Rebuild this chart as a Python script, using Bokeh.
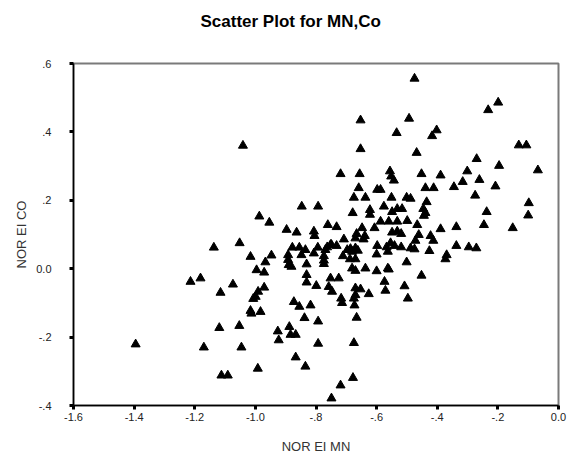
from bokeh.plotting import figure
from bokeh.models import FixedTicker, ColumnDataSource, Title
from bokeh.embed import file_html
from bokeh.resources import INLINE

# Normalised EI values for manganese (x) and cobalt (y), one pair per sample
nor_ei_mn = [
    -1.395, -1.214, -1.181, -1.137, -1.115, -1.119, -1.170, -1.112, -1.091, -1.074,
    -1.052, -1.053, -1.046, -1.016, -0.996, -0.971, -0.967, -0.947, -0.971, -0.991,
    -0.999, -1.007, -1.016, -1.013, -0.983, -0.992, -0.954, -0.987, -1.041, -0.847,
    -0.793, -0.897, -0.864, -0.807, -0.805, -0.878, -0.855, -0.835, -0.807, -0.794,
    -0.892, -0.892, -0.890, -0.881, -0.848, -0.831, -0.831, -0.831, -0.799, -0.873,
    -0.855, -0.818, -0.838, -0.793, -0.926, -0.923, -0.888, -0.884, -0.867, -0.793,
    -0.867, -0.835, -0.749, -0.719, -0.678, -0.675, -0.666, -0.673, -0.717, -0.714,
    -0.675, -0.670, -0.670, -0.653, -0.626, -0.571, -0.574, -0.497, -0.508, -0.452,
    -0.501, -0.373, -0.369, -0.271, -0.296, -0.337, -0.426, -0.246, -0.151, -0.337,
    -0.389, -0.466, -0.461, -0.472, -0.422, -0.413, -0.488, -0.475, -0.519, -0.563,
    -0.554, -0.541, -0.567, -0.598, -0.600, -0.549, -0.532, -0.519, -0.607, -0.648,
    -0.587, -0.560, -0.532, -0.499, -0.666, -0.670, -0.639, -0.643, -0.708, -0.732,
    -0.752, -0.763, -0.761, -0.732, -0.688, -0.681, -0.670, -0.662, -0.711, -0.688,
    -0.670, -0.774, -0.774, -0.774, -0.681, -0.670, -0.637, -0.600, -0.563, -0.560,
    -0.752, -0.725, -0.758, -0.747, -0.475, -0.199, -0.232, -0.653, -0.493, -0.534,
    -0.402, -0.417, -0.653, -0.468, -0.131, -0.106, -0.270, -0.196, -0.068, -0.719,
    -0.656, -0.556, -0.552, -0.543, -0.452, -0.389, -0.301, -0.316, -0.261, -0.345,
    -0.208, -0.275, -0.098, -0.100, -0.237, -0.659, -0.598, -0.587, -0.439, -0.412,
    -0.675, -0.637, -0.551, -0.501, -0.488, -0.435, -0.446, -0.439, -0.444, -0.576,
    -0.622, -0.622, -0.679, -0.549, -0.532, -0.516, -0.697, -0.686, -0.769, -0.749,
]
nor_ei_co = [
    -0.221, -0.038, -0.028, 0.062, -0.070, -0.173, -0.230, -0.312, -0.312, -0.046,
    0.075, -0.167, -0.230, 0.035, -0.004, -0.011, 0.019, 0.039, -0.055, -0.067,
    -0.082, -0.088, -0.123, -0.131, -0.126, -0.292, 0.135, 0.153, 0.360, 0.182,
    0.182, 0.114, 0.106, 0.109, 0.096, 0.062, 0.062, 0.055, 0.045, 0.062,
    0.040, 0.026, 0.011, 0.006, 0.040, 0.013, -0.018, -0.040, -0.050, -0.097,
    -0.111, -0.107, -0.144, -0.154, -0.183, -0.209, -0.170, -0.193, -0.193, -0.219,
    -0.259, -0.286, -0.379, -0.341, -0.319, -0.217, -0.143, -0.107, -0.087, -0.100,
    -0.087, -0.077, -0.057, -0.060, -0.074, -0.064, -0.038, -0.087, -0.051, -0.020,
    0.019, 0.028, 0.040, 0.060, 0.063, 0.067, 0.052, 0.128, 0.119, 0.122,
    0.116, 0.128, 0.099, 0.082, 0.096, 0.082, 0.060, 0.057, 0.063, 0.050,
    0.075, 0.067, 0.063, 0.067, 0.042, 0.106, 0.109, 0.102, 0.119, 0.119,
    0.138, 0.138, 0.138, 0.140, 0.102, 0.089, 0.096, 0.086, 0.086, 0.067,
    0.070, 0.063, 0.128, 0.122, 0.055, 0.050, 0.060, 0.053, 0.037, 0.028,
    0.028, 0.037, 0.024, 0.014, 0.001, -0.006, 0.001, -0.007, 0.001, -0.002,
    -0.028, -0.028, -0.053, -0.067, 0.556, 0.486, 0.464, 0.434, 0.439, 0.397,
    0.405, 0.388, 0.350, 0.339, 0.361, 0.361, 0.321, 0.301, 0.288, 0.277,
    0.277, 0.285, 0.270, 0.258, 0.277, 0.273, 0.285, 0.254, 0.260, 0.239,
    0.241, 0.214, 0.192, 0.156, 0.166, 0.236, 0.231, 0.231, 0.236, 0.236,
    0.208, 0.208, 0.208, 0.208, 0.205, 0.195, 0.175, 0.163, 0.155, 0.182,
    0.172, 0.158, 0.163, 0.166, 0.175, 0.175, 0.055, 0.058, 0.055, 0.070,
]

x_ticks = [-1.6, -1.4, -1.2, -1.0, -0.8, -0.6, -0.4, -0.2, 0.0]
x_tick_labels = ["-1.6", "-1.4", "-1.2", "-1.0", "-.8", "-.6", "-.4", "-.2", "0.0"]
y_ticks = [-0.4, -0.2, 0.0, 0.2, 0.4, 0.6]
y_tick_labels = ["-.4", "-.2", "0.0", ".2", ".4", ".6"]

source = ColumnDataSource(data=dict(mn=nor_ei_mn, co=nor_ei_co))

p = figure(
    width=570, height=466,
    x_range=(-1.6, 0.0), y_range=(-0.4, 0.6),
    output_backend="svg", toolbar_location=None,
    min_border_left=73, min_border_right=12,
    min_border_top=0, min_border_bottom=61,
    title="Scatter Plot for MN,Co",
)

p.title.text_font = "Liberation Sans"
p.title.text_font_size = "17px"
p.title.text_font_style = "bold"
p.title.text_color = "black"
p.title.align = "left"
p.title.offset = 127
p.title.standoff = 18

# Blank band between the heading and the plot frame
p.add_layout(Title(text=" ", text_font_size="14px", standoff=6), "above")

p.background_fill_color = "white"
p.border_fill_color = "white"
p.outline_line_color = "#7a7a7a"
p.outline_line_width = 2
p.xgrid.visible = False
p.ygrid.visible = False

for ax in (p.xaxis[0], p.yaxis[0]):
    ax.axis_line_color = "black"
    ax.axis_line_width = 1.5
    ax.major_tick_line_color = "black"
    ax.major_tick_line_width = 3
    ax.major_tick_in = 0
    ax.major_tick_out = 4
    ax.minor_tick_line_color = None
    ax.major_label_text_font = "Liberation Sans"
    ax.major_label_text_font_size = "11px"
    ax.major_label_text_color = "#222222"
    ax.axis_label_text_font = "Liberation Sans"
    ax.axis_label_text_font_size = "13px"
    ax.axis_label_text_font_style = "normal"
    ax.axis_label_text_color = "#333333"

p.xaxis[0].ticker = FixedTicker(ticks=x_ticks)
p.xaxis[0].major_label_overrides = {t: s for t, s in zip(x_ticks, x_tick_labels)}
p.xaxis[0].major_label_standoff = 3
p.xaxis[0].axis_label = "NOR EI MN"
p.xaxis[0].axis_label_standoff = 15

p.yaxis[0].ticker = FixedTicker(ticks=y_ticks)
p.yaxis[0].major_label_overrides = {t: s for t, s in zip(y_ticks, y_tick_labels)}
p.yaxis[0].major_label_standoff = 18
p.yaxis[0].axis_label = "NOR EI CO"
p.yaxis[0].axis_label_standoff = 4

p.scatter("mn", "co", source=source, marker="triangle", size=9,
          fill_color="black", line_color="black")

open("out.html", "w").write(file_html(p, INLINE))
